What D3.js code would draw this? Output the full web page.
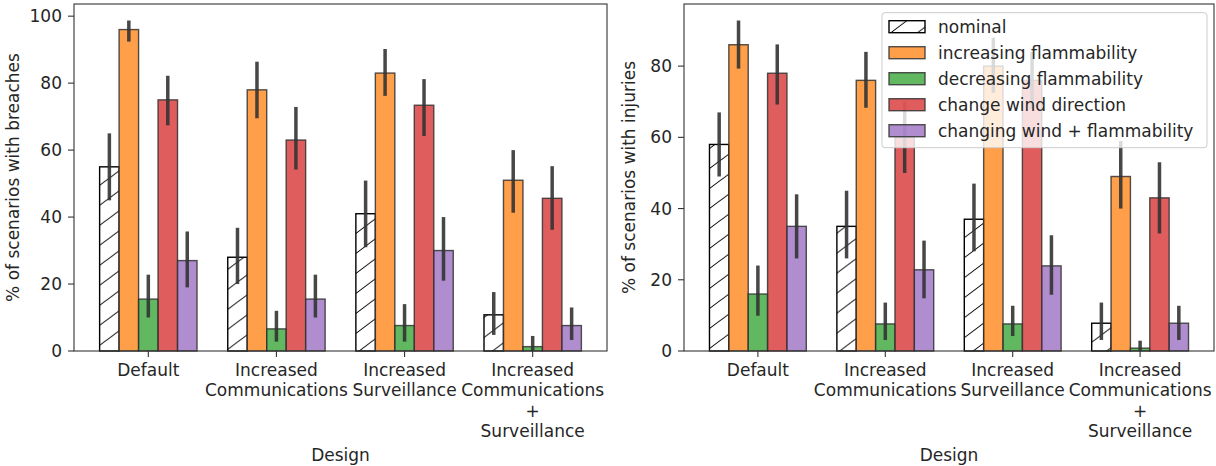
<!DOCTYPE html>
<html>
<head>
<meta charset="utf-8">
<script src="https://cdn.jsdelivr.net/npm/d3@7"></script>
<style>
  body { margin: 0; background: #fff; }
  svg { display: block; font-family: "DejaVu Sans", sans-serif; }
</style>
</head>
<body>
<div id="chart"></div>
<script>
// Dati del grafico
const designs = [
  "Default",
  "Increased Communications",
  "Increased Surveillance",
  "Increased Communications + Surveillance",
];
const designLabels = [
  ["Default"],
  ["Increased", "Communications"],
  ["Increased", "Surveillance"],
  ["Increased", "Communications", "+", "Surveillance"],
];
const scenarios = [
  "nominal",
  "increasing flammability",
  "decreasing flammability",
  "change wind direction",
  "changing wind + flammability",
];
const scenarioColors = [null, "#ff7f0e", "#2ca02c", "#d62728", "#9467bd"];

// % di scenari con breaches (media, limite basso e alto dell'intervallo)
const breachesMean = [
  [55, 96, 15.5, 75, 27],
  [28, 78, 6.6, 63, 15.5],
  [41, 83, 7.6, 73.4, 30],
  [10.8, 51, 1.3, 45.6, 7.6],
];
const breachesLow = [
  [45, 92.4, 10, 67.4, 19],
  [20, 69.5, 2.8, 54.2, 10],
  [31, 76.2, 2.8, 64.2, 21],
  [4.8, 41.3, 0, 36.2, 3.3],
];
const breachesHigh = [
  [65, 98.7, 22.8, 82.2, 35.7],
  [36.8, 86.4, 12, 72.9, 22.8],
  [50.9, 90.2, 14, 81.2, 40],
  [17.6, 60, 4.5, 55.2, 13],
];

// % di scenari con injuries
const injuriesMean = [
  [58, 86, 16, 78, 35],
  [35, 76, 7.6, 60, 22.8],
  [37, 80, 7.6, 76, 23.9],
  [7.8, 49, 0.8, 43, 7.8],
];
const injuriesLow = [
  [49, 79.3, 9.9, 69.2, 26],
  [26, 68.3, 3.1, 50, 14.8],
  [28, 72.5, 4.2, 68, 15.8],
  [3.1, 40, 0, 33, 3.1],
];
const injuriesHigh = [
  [67, 92.8, 24, 86.1, 44],
  [45, 84, 13.6, 70, 31],
  [47, 88, 12.7, 84, 32.5],
  [13.6, 59, 2.9, 53, 12.7],
];

const width = 1216;
const height = 466;
const fontSize = 17;

const svg = d3
  .select("#chart")
  .append("svg")
  .attr("width", width)
  .attr("height", height);

// Pattern per il tratteggio della serie "nominal"
const hw = 26.7;
const hh = 20;
const hatch = svg
  .append("defs")
  .append("pattern")
  .attr("id", "hatch")
  .attr("patternUnits", "userSpaceOnUse")
  .attr("width", hw)
  .attr("height", hh);
hatch.append("rect").attr("width", hw).attr("height", hh).attr("fill", "#fff");
hatch
  .append("path")
  .attr(
    "d",
    `M-2,${hh + 1.5}L${hw + 2},-1.5 M-2,1.5L2,-1.5 M${hw - 2},${hh + 1.5}L${hw + 2},${hh - 1.5}`
  )
  .attr("stroke", "#000")
  .attr("stroke-width", 1);

function fillOf(j) {
  return j === 0 ? "url(#hatch)" : scenarioColors[j];
}

function drawChart(x0, x1, means, lows, highs, yLabel, yLabelX, showLegend) {
  const top = 4;
  const bottom = 351;
  const g = svg.append("g");

  const y = d3
    .scaleLinear()
    .domain([0, d3.max(highs.flat()) * 1.05])
    .range([bottom, top]);

  const x = d3
    .scaleBand()
    .domain(designs)
    .range([x0, x1])
    .paddingInner(0.24)
    .paddingOuter(0.2);

  const xs = d3.scaleBand().domain(scenarios).range([0, x.bandwidth()]);

  // barre
  designs.forEach((design, i) => {
    scenarios.forEach((s, j) => {
      g.append("rect")
        .attr("x", x(design) + xs(s))
        .attr("y", y(means[i][j]))
        .attr("width", xs.bandwidth())
        .attr("height", y(0) - y(means[i][j]))
        .attr("fill", fillOf(j))
        .attr("fill-opacity", j === 0 ? 1 : 0.75)
        .attr("stroke", j === 0 ? "#000" : "#333")
        .attr("stroke-opacity", j === 0 ? 1 : 0.85)
        .attr("stroke-width", 1.4);
    });
  });

  // barre di errore
  designs.forEach((design, i) => {
    scenarios.forEach((s, j) => {
      const cx = x(design) + xs(s) + xs.bandwidth() / 2;
      g.append("line")
        .attr("x1", cx)
        .attr("x2", cx)
        .attr("y1", y(lows[i][j]))
        .attr("y2", y(highs[i][j]))
        .attr("stroke", "#333")
        .attr("stroke-opacity", 0.9)
        .attr("stroke-width", 3.5);
    });
  });

  // cornice
  g.append("rect")
    .attr("x", x0)
    .attr("y", top)
    .attr("width", x1 - x0)
    .attr("height", bottom - top)
    .attr("fill", "none")
    .attr("stroke", "#333")
    .attr("stroke-width", 1.1);

  // tick asse y
  y.ticks(5).forEach((t) => {
    g.append("line")
      .attr("x1", x0 - 6)
      .attr("x2", x0)
      .attr("y1", y(t))
      .attr("y2", y(t))
      .attr("stroke", "#333")
      .attr("stroke-width", 1.1);
    g.append("text")
      .attr("x", x0 - 12)
      .attr("y", y(t))
      .attr("dy", "0.36em")
      .attr("text-anchor", "end")
      .attr("font-size", fontSize)
      .attr("fill", "#262626")
      .text(t);
  });

  // tick asse x
  designs.forEach((design, i) => {
    const cx = x(design) + x.bandwidth() / 2;
    g.append("line")
      .attr("x1", cx)
      .attr("x2", cx)
      .attr("y1", bottom)
      .attr("y2", bottom + 6)
      .attr("stroke", "#333")
      .attr("stroke-width", 1.1);
    const label = g
      .append("text")
      .attr("text-anchor", "middle")
      .attr("font-size", fontSize)
      .attr("fill", "#262626");
    designLabels[i].forEach((line, k) => {
      label
        .append("tspan")
        .attr("x", cx)
        .attr("y", 376 + k * 20.3)
        .text(line);
    });
  });

  // titoli degli assi
  g.append("text")
    .attr("x", (x0 + x1) / 2)
    .attr("y", 461)
    .attr("text-anchor", "middle")
    .attr("font-size", fontSize)
    .attr("fill", "#262626")
    .text("Design");

  g.append("text")
    .attr("transform", `translate(${yLabelX},${(top + bottom) / 2}) rotate(-90)`)
    .attr("text-anchor", "middle")
    .attr("font-size", fontSize)
    .attr("fill", "#262626")
    .text(yLabel);

  if (showLegend) drawLegend(x1, top);
}

function drawLegend(right, top) {
  const lw = 325;
  const lh = 135;
  const lx = right - 7 - lw;
  const ly = top + 8.7;
  const lg = svg.append("g");

  lg.append("rect")
    .attr("x", lx)
    .attr("y", ly)
    .attr("width", lw)
    .attr("height", lh)
    .attr("rx", 3)
    .attr("fill", "#fff")
    .attr("fill-opacity", 0.8)
    .attr("stroke", "#ccc")
    .attr("stroke-width", 1);

  scenarios.forEach((s, j) => {
    const cy = ly + 14 + j * 26;
    lg.append("rect")
      .attr("x", lx + 7)
      .attr("y", cy - 6)
      .attr("width", 36)
      .attr("height", 12)
      .attr("fill", fillOf(j))
      .attr("fill-opacity", j === 0 ? 1 : 0.75)
      .attr("stroke", j === 0 ? "#000" : "#333")
      .attr("stroke-opacity", j === 0 ? 1 : 0.85)
      .attr("stroke-width", 1.4);
    lg.append("text")
      .attr("x", lx + 56)
      .attr("y", cy)
      .attr("dy", "0.36em")
      .attr("font-size", fontSize)
      .attr("fill", "#262626")
      .text(s);
  });
}

drawChart(74, 607, breachesMean, breachesLow, breachesHigh, "% of scenarios with breaches", 19, false);
drawChart(684, 1214, injuriesMean, injuriesLow, injuriesHigh, "% of scenarios with injuries", 635, true);
</script>
</body>
</html>
